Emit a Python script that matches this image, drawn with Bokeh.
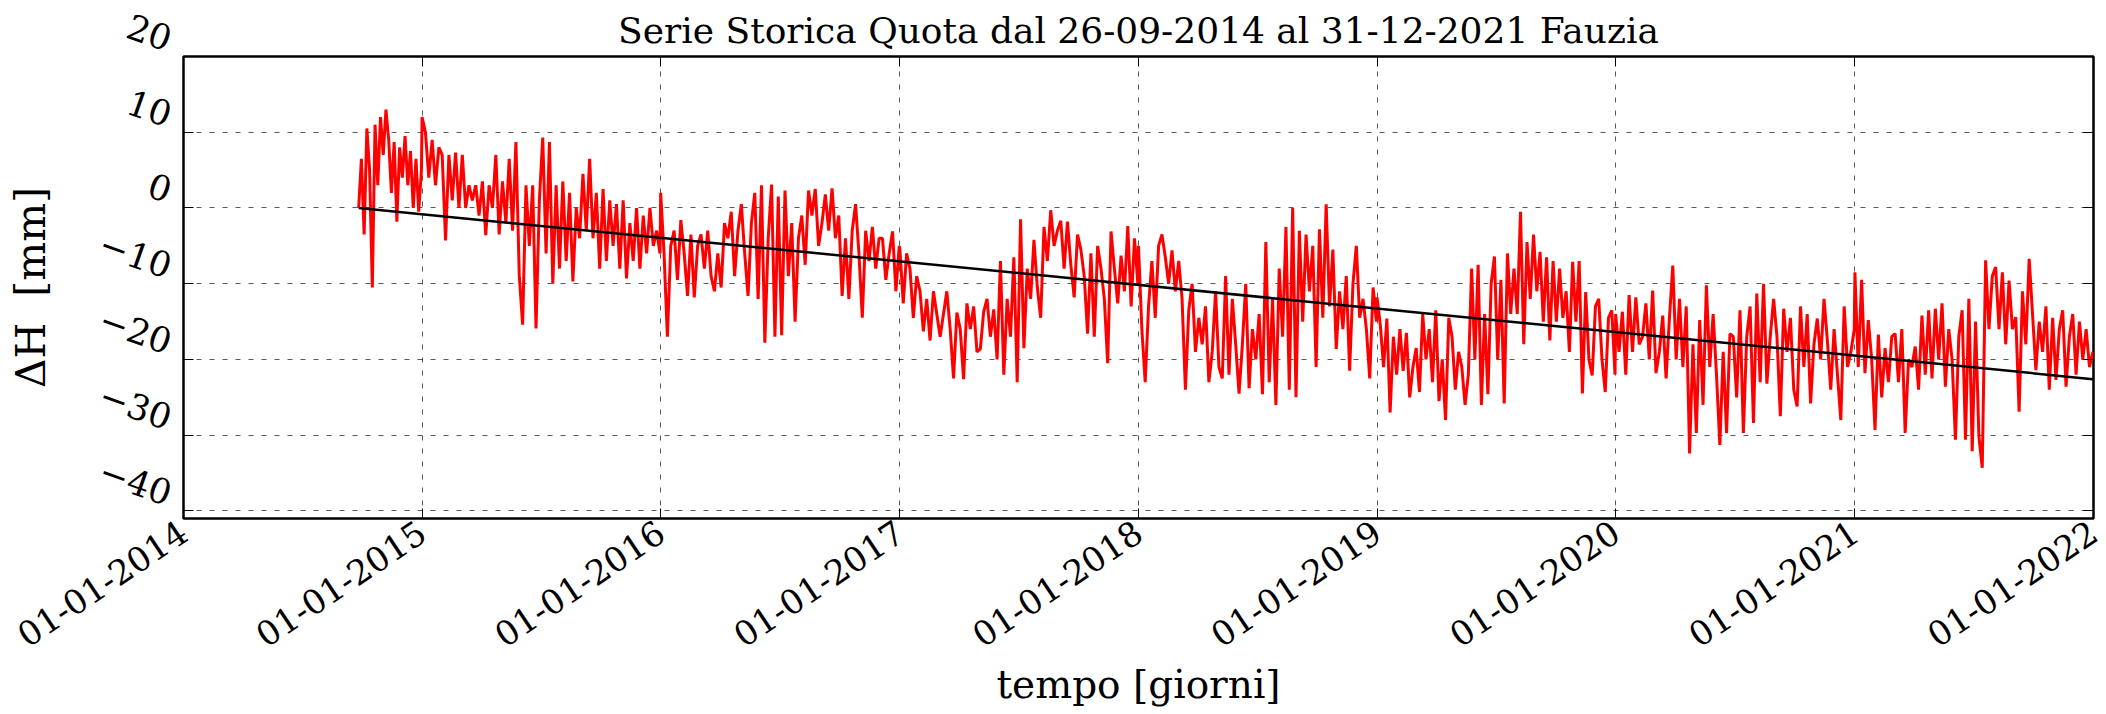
import math
import pandas as pd
from bokeh.plotting import figure
from bokeh.models import ColumnDataSource, LinearAxis, Range1d, FixedTicker, DatetimeTickFormatter
from bokeh.embed import file_html
from bokeh.resources import INLINE

TITLE = "Serie Storica Quota dal 26-09-2014 al 31-12-2021 Fauzia"
XLABEL = "tempo [giorni]"
YLABEL = "ΔH\u00a0 [mm]"

x_tick_dates = ["2014-01-01", "2015-01-01", "2016-01-01", "2017-01-01", "2018-01-01",
                "2019-01-01", "2020-01-01", "2021-01-01", "2022-01-01"]
y_ticks = [-40, -30, -20, -10, 0, 10, 20]
y_tick_labels = ["−40", "−30", "−20", "−10", "0", "10", "20"]

# Height variation [mm], one list per year
h2014 = [0, 6.5, -3.5, 10.5, 5, -10.5, 11, 3, 12, 7, 13, 9, 2, 8.7, -1.8, 8, 4,
         9.5, 3, 7.5, 0, 6.5, -0.5, 5]
h2015 = [12, 10, 4, 9, 3, 8, 7, -4.3, 7, 1, 7.3, 0, 7, 0, 3, 1, 3, -1,
         3.5, -3.6, 3, 0, 7, -3.5, 3.5, -2, 6.5, -3, 8.7, -8.9,
         -15.4, 3, -5, 3, -15.9, 1, 9.3, -6, 8.7, -10, 3, -8,
         3.5, -7, 2, -9.7, 0, -4, 4.5, -3, 6.5, -4, 2, -8,
         2.5, -7, 1, -5, 0.5, -8, 1, -9.3, -2, -7, 0, -8, -1, -6, 0, -5, -3, -6]
h2016 = [2, -6, -17, -5, -3, -9.5, -1.6, -6, -11.6, -3.5, -11.8, -5,
         -3.5, -8, -3, -9, -11, -6, -10.5, -2, -4, -0.5, -9, -3,
         0.5, -6, -11.6, -2, 2, -12, 3, -17.8, -4, 3.1, -17, 1.5,
         -16.8, 2.3, -9, -2, -15, -4, -1, -7.5, 2.3, -1, 2.5, -5,
         -2, 1.8, -3, 2.6, -4, -1, -11.6, -4, -12, -3, 0.5, -6,
         -14.5, -3, -7, -2.5, -8, -4, -4, -9.5, -6, -3.1, -11, -5]
h2017 = [-5.5, -12.6, -6, -8, -14.5, -9, -11, -16.3, -12, -17.5, -11, -14,
         -17, -14, -11, -16, -22.5, -13.8, -16, -22.6, -12.6, -16, -13, -19,
         -18.6, -13.7, -12, -17, -13.4, -20, -7, -22, -12, -17, -6.5, -23,
         -1.5, -18.5, -8, -12, -4.2, -10.5, -14.5, -2.5, -7, -0.3, -5, -3,
         -1.7, -8, -1.8, -7.5, -11.8, -3.5, -5.5, -9, -16.6, -6, -17, -5,
         -8, -12, -20.5, -3.1, -8, -12.6, -6.3, -11, -2.4, -13, -4, -10]
h2018 = [-5, -16, -23, -13, -7, -14.5, -5, -3.5, -6.5, -10, -5.6, -11,
         -7, -12, -24, -13.5, -10, -19, -14.5, -18, -13, -23, -19, -11,
         -21, -22.5, -9, -22, -12, -18, -24.5, -18, -10, -23.8, -16, -20,
         -14, -24.6, -4.5, -23, -12, -26, -8, -17, -2.5, -24, 0, -25,
         -3, -15, -3.5, -11, -5, -21, -2.8, -14.5, 0.5, -13, -5.5, -18.6,
         -11, -16, -9, -21.5, -10, -5, -14.5, -12, -16, -22.5, -10.5, -15]
h2019 = [-11.8, -15.5, -21, -14.6, -27, -17, -22, -16, -21.5, -16.5, -25, -21,
         -18.5, -24.3, -14, -20, -16, -23, -13.5, -25.5, -20, -28, -14.5, -17,
         -24, -19, -21, -26, -22, -8, -20, -7.5, -26, -14, -24.6, -10,
         -6.4, -20, -9.5, -25.8, -6, -14, -8, -14, -0.5, -18, -4.5, -12,
         -3.5, -11, -5.8, -15, -6.5, -17.5, -7, -15, -8, -14.5, -11, -19, -7.1, -15,
         -7, -24.5, -11.1, -20, -22.1, -13, -12, -20, -24.3, -14.5, -13.5, -22]
h2020 = [-14, -19, -13.7, -22, -11.5, -19, -11.8, -18, -17, -12.6, -20, -10.9,
         -21.8, -19, -14.2, -22.5, -14.5, -7.6, -20, -12, -21, -13, -32.4, -18,
         -29.7, -14.8, -26, -10.2, -21, -14, -22, -31.3, -19, -29.7, -16.6, -17,
         -25, -13.5, -29.7, -17, -13, -28.4, -11.3, -23, -10, -23.2, -17, -12,
         -17, -27.5, -13.3, -19, -14.5, -24, -26.2, -13, -21, -14, -25.8, -18,
         -14.6, -20, -12, -17.5, -24, -16, -22, -28, -13, -21, -19, -16]
h2021 = [-8.5, -21, -9.5, -21.8, -14.8, -20, -29.3, -16.7, -25, -18.5, -23, -17,
         -16.6, -23, -16, -29.7, -20, -21, -18.3, -24, -14.2, -22, -13.5, -22.5,
         -13.3, -20, -12.6, -23.6, -16, -20, -30.6, -17, -13.5, -30.6, -12, -32.1,
         -15, -30.2, -34.3, -6.9, -16, -9, -7.8, -16, -8.5, -18, -9.6, -16,
         -14.4, -26.9, -11, -18, -6.7, -14, -21.4, -15, -19, -13, -24, -14.5,
         -22.7, -16, -13.5, -23.6, -17, -14, -22, -15, -20, -16, -21, -19]

year_spans = [("2014-09-26", "2014-12-31", h2014), ("2015-01-01", "2015-12-31", h2015),
              ("2016-01-01", "2016-12-31", h2016), ("2017-01-01", "2017-12-31", h2017),
              ("2018-01-01", "2018-12-31", h2018), ("2019-01-01", "2019-12-31", h2019),
              ("2020-01-01", "2020-12-31", h2020), ("2021-01-01", "2021-12-31", h2021)]

# linear trend (fit) end points
trend_dates = ["2014-09-26", "2021-12-31"]
trend_values = [0.0, -22.6]

xs, ys = [], []
for s, e, vals in year_spans:
    xs.extend(list(pd.date_range(s, e, periods=len(vals))))
    ys.extend(vals)
src = ColumnDataSource(data=dict(x=xs, y=ys))
tsrc = ColumnDataSource(data=dict(x=pd.to_datetime(trend_dates), y=trend_values))

def to_ms(d):
    return (pd.Timestamp(d) - pd.Timestamp("1970-01-01")) / pd.Timedelta(milliseconds=1)

xt = [to_ms(d) for d in x_tick_dates]

FONT = "DejaVu Serif"

p = figure(frame_width=1910, frame_height=462, x_axis_type="datetime",
           x_range=Range1d(xt[0], xt[-1]), y_range=Range1d(-41, 20),
           output_backend="svg", toolbar_location=None,
           min_border_left=183, min_border_right=12, min_border_top=56, min_border_bottom=150,
           title=TITLE)
p.background_fill_color = "white"
p.border_fill_color = "white"
p.outline_line_color = "black"
p.outline_line_width = 2.5

p.title.text_font = FONT
p.title.text_font_size = "36px"
p.title.text_font_style = "normal"
p.title.align = "center"
p.title.text_color = "black"
p.title.standoff = 12

xa = p.xaxis[0]
xa.ticker = FixedTicker(ticks=xt)
xa.formatter = DatetimeTickFormatter(years="%d-%m-%Y", months="%d-%m-%Y", days="%d-%m-%Y")
xa.major_label_orientation = math.radians(34)
xa.major_label_text_font = FONT
xa.major_label_text_font_size = "34px"
xa.major_label_text_color = "black"
xa.major_label_standoff = 10
xa.major_tick_in = 10
xa.major_tick_out = 0
xa.minor_tick_in = 0
xa.minor_tick_out = 0
xa.axis_line_color = None
xa.major_tick_line_color = "black"
xa.axis_label = XLABEL
xa.axis_label_text_font = FONT
xa.axis_label_text_font_size = "39px"
xa.axis_label_text_font_style = "normal"
xa.axis_label_text_line_height = 1.0
xa.axis_label_text_color = "black"
xa.axis_label_standoff = 0

ya = p.yaxis[0]
ya.ticker = FixedTicker(ticks=y_ticks)
ya.major_label_overrides = {t: l + "\n " for t, l in zip(y_ticks, y_tick_labels)}
ya.major_label_orientation = -0.34
ya.major_label_text_font = FONT
ya.major_label_text_font_size = "35px"
ya.major_label_text_line_height = 0.85
ya.major_label_text_color = "black"
ya.major_label_standoff = 19
ya.major_tick_in = 10
ya.major_tick_out = 0
ya.minor_tick_in = 0
ya.minor_tick_out = 0
ya.axis_line_color = None
ya.major_tick_line_color = "black"
ya.axis_label = YLABEL
ya.axis_label_text_font = FONT
ya.axis_label_text_font_size = "41px"
ya.axis_label_text_font_style = "normal"
ya.axis_label_text_color = "black"
ya.axis_label_standoff = 12

top = LinearAxis(ticker=FixedTicker(ticks=xt), major_label_text_font_size="0px",
                 major_label_standoff=0, major_tick_in=10, major_tick_out=0,
                 minor_tick_in=0, minor_tick_out=0, axis_line_color=None)
p.add_layout(top, "above")
right = LinearAxis(ticker=FixedTicker(ticks=y_ticks), major_label_text_font_size="0px",
                   major_label_standoff=0, major_tick_in=10, major_tick_out=0,
                   minor_tick_in=0, minor_tick_out=0, axis_line_color=None)
p.add_layout(right, "right")

for g, tk in ((p.xgrid, xt), (p.ygrid, y_ticks)):
    g.ticker = FixedTicker(ticks=tk)
    g.grid_line_color = "black"
    g.grid_line_alpha = 0.65
    g.grid_line_width = 1
    g.grid_line_dash = "5 8"

p.line("x", "y", source=src, line_color="#ff0000", line_width=3)
p.line("x", "y", source=tsrc, line_color="black", line_width=2.5)

open("out.html", "w").write(file_html(p, INLINE))
